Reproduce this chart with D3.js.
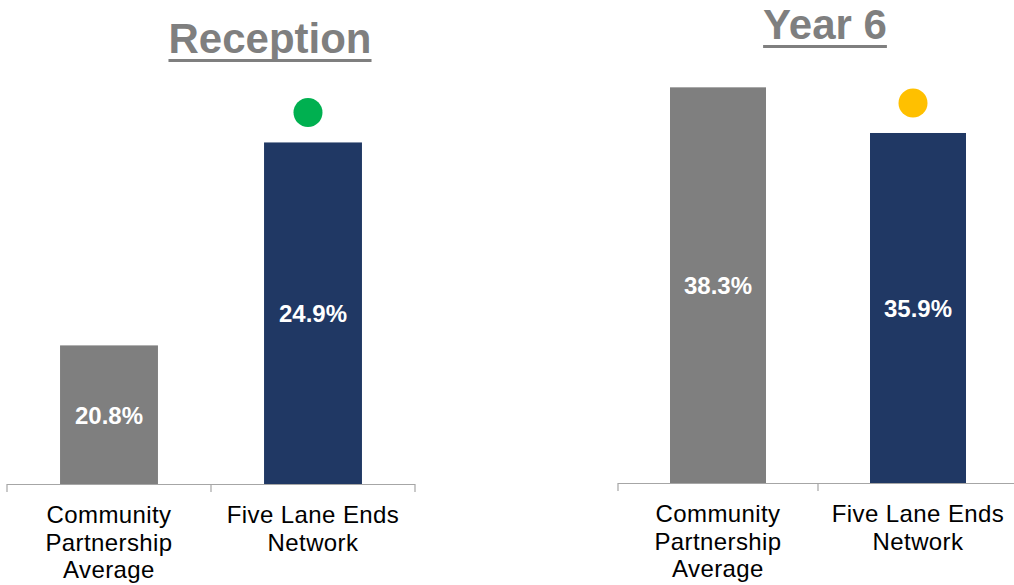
<!DOCTYPE html>
<html>
<head>
<meta charset="utf-8">
<script src="https://cdn.jsdelivr.net/npm/d3@7"></script>
<style>
  body { margin: 0; background: #fff; }
  text { font-family: "Liberation Sans", Arial, sans-serif; }
</style>
</head>
<body>
<div id="chart"></div>
<script>
// Data
const categories = ["Community Partnership Average", "Five Lane Ends Network"];
const categoryLines = [["Community", "Partnership", "Average"], ["Five Lane Ends", "Network"]];
const panelTitles = ["Reception", "Year 6"];
const receptionValues = [20.8, 24.9];
const year6Values = [38.3, 35.9];
const statusColours = ["#00b050", "#ffc000"];

const barColours = ["#7f7f7f", "#203864"];

const svg = d3.select("#chart")
  .append("svg")
  .attr("width", 1014)
  .attr("height", 585);

// per-panel layout (axis span, baseline, y domain)
const panels = [
  { title: panelTitles[0], values: receptionValues, dot: statusColours[0],
    x0: 7, x1: 415, base: 484, top: 88, domain: [18, 26], titleX: 270, titleY: 53 },
  { title: panelTitles[1], values: year6Values, dot: statusColours[1],
    x0: 618, x1: 1018, base: 483, top: 55, domain: [17.5, 40], titleX: 825, titleY: 39 }
];

panels.forEach(p => {
  const g = svg.append("g");

  const x = d3.scaleBand()
    .domain(categories)
    .range([p.x0, p.x1])
    .padding(0);

  const y = d3.scaleLinear()
    .domain(p.domain)
    .range([p.base, p.top]);

  const barW = x.bandwidth() * 0.48;
  const data = categories.map((c, i) => ({ cat: c, value: p.values[i], i }));

  // bars
  g.selectAll("rect.bar")
    .data(data)
    .enter()
    .append("rect")
    .attr("class", "bar")
    .attr("x", d => x(d.cat) + (x.bandwidth() - barW) / 2)
    .attr("y", d => y(d.value))
    .attr("width", barW)
    .attr("height", d => p.base - y(d.value))
    .attr("fill", d => barColours[d.i]);

  // value labels centred in bars
  g.selectAll("text.val")
    .data(data)
    .enter()
    .append("text")
    .attr("class", "val")
    .attr("x", d => x(d.cat) + x.bandwidth() / 2)
    .attr("y", d => (y(d.value) + p.base) / 2 + 9)
    .attr("text-anchor", "middle")
    .attr("fill", "#fff")
    .attr("font-weight", "bold")
    .attr("font-size", 24)
    .text(d => d.value.toFixed(1) + "%");

  // status dot above the network bar
  const net = data[1];
  g.append("circle")
    .attr("cx", x(net.cat) + x.bandwidth() / 2 - 5)
    .attr("cy", y(net.value) - 30)
    .attr("r", 14.5)
    .attr("fill", p.dot);

  // category axis: baseline plus boundary ticks
  g.append("line")
    .attr("x1", p.x0).attr("x2", p.x1)
    .attr("y1", p.base + 0.5).attr("y2", p.base + 0.5)
    .attr("stroke", "#a6a6a6")
    .attr("stroke-width", 1.2);

  const bounds = categories.map(c => x(c)).concat([p.x1]);
  g.selectAll("line.tick")
    .data(bounds)
    .enter()
    .append("line")
    .attr("class", "tick")
    .attr("x1", d => d).attr("x2", d => d)
    .attr("y1", p.base).attr("y2", p.base + 8)
    .attr("stroke", "#a6a6a6")
    .attr("stroke-width", 1.2);

  // category labels
  data.forEach(d => {
    const t = g.append("text")
      .attr("text-anchor", "middle")
      .attr("font-size", 24)
      .attr("letter-spacing", 0.4)
      .attr("fill", "#000");
    categoryLines[d.i].forEach((line, k) => {
      t.append("tspan")
        .attr("x", x(d.cat) + x.bandwidth() / 2)
        .attr("y", p.base + 39 + k * 27.5)
        .text(line);
    });
  });

  // underlined title
  const title = g.append("text")
    .attr("x", p.titleX)
    .attr("y", p.titleY)
    .attr("text-anchor", "middle")
    .attr("font-size", 42)
    .attr("font-weight", "bold")
    .attr("fill", "#7f7f7f")
    .text(p.title);
  const tw = title.node().getComputedTextLength();
  g.append("rect")
    .attr("x", p.titleX - tw / 2)
    .attr("y", p.titleY + 6)
    .attr("width", tw)
    .attr("height", 3)
    .attr("fill", "#7f7f7f");
});
</script>
</body>
</html>
